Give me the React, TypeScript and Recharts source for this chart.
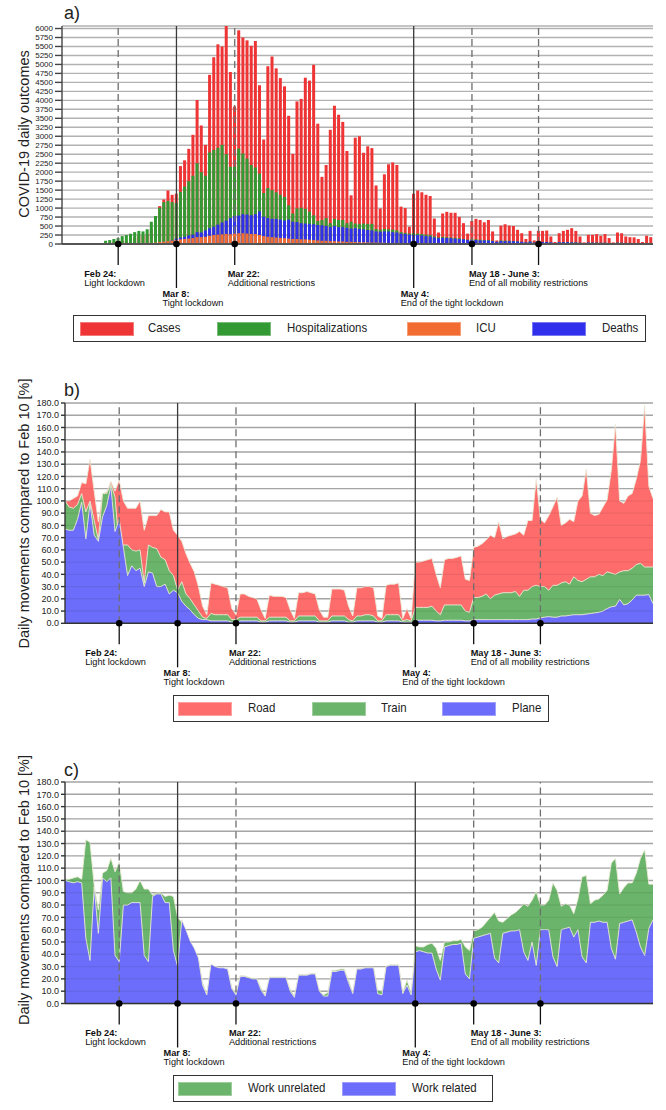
import React from "react";
import {
  BarChart, Bar, AreaChart, Area, XAxis, YAxis, CartesianGrid, ReferenceLine, Legend,
} from "recharts";

const FONT = "'Liberation Sans', Arial, sans-serif";

// daily series, day 0 = Feb 10 2020 ... day 141 = Jun 30 2020
const cases = [
  0, 0, 0, 0, 0, 0, 0, 0, 0, 0,
  15, 40, 60, 50, 90, 80, 100, 180, 240, 230,
  280, 420, 600, 1055, 1240, 1490, 1370, 1400, 2170, 2330,
  2650, 3040, 4010, 3300, 2760, 4710, 5200, 5560, 5500, 6070,
  4790, 3830, 5950, 5750, 5670, 5520, 5650, 4420, 2910, 4950,
  5220, 4890, 4620, 4390, 3570, 2510, 3970, 4040, 4630, 4550,
  4990, 3350, 1870, 2200, 3180, 3850, 3600, 3400, 2590, 1355,
  2960, 3000, 2540, 2720, 2670, 1630, 990, 1940, 2220, 2270,
  2200, 1040, 1000, 480, 1400, 1490, 1440, 1370, 1335, 710,
  320, 850, 895, 870, 870, 755, 580, 290, 640, 700,
  670, 605, 670, 350, 100, 510, 550, 510, 500, 395,
  300, 140, 365, 100, 365, 365, 375, 210, 55, 300,
  365, 395, 440, 365, 210, 45, 255, 255, 275, 230,
  275, 165, 45, 320, 300, 210, 190, 185, 140, 55,
  230, 190,
];
const hospitalizations = [
  0, 0, 0, 0, 0, 0, 0, 0, 0, 0,
  90, 110, 140, 165, 220, 250, 285, 330, 365, 350,
  410, 620, 780, 1010, 1165, 1200, 1165, 1140, 1450, 1600,
  1750, 1900, 2250, 2000, 1900, 2550, 2620, 2680, 2760, 2500,
  2150, 2150, 2660, 2520, 2380, 2200, 2130, 1960, 1420, 1560,
  1500, 1440, 1370, 1310, 1080, 850, 990, 1010, 980, 900,
  800, 640, 670, 720, 580, 700, 670, 670, 580, 620,
  570, 560, 570, 560, 560, 420, 400, 420, 410, 400,
  380, 330, 310, 290, 300, 290, 280, 260, 250, 210,
  180, 200, 190, 180, 170, 160, 140, 120, 130, 130,
  120, 110, 110, 90, 60, 100, 95, 90, 85, 75,
  60, 40, 70, 40, 65, 60, 60, 45, 25, 50,
  55, 55, 50, 45, 35, 20, 40, 40, 40, 35,
  35, 25, 15, 40, 35, 30, 30, 25, 20, 15,
  30, 30,
];
const deaths = [
  0, 0, 0, 0, 0, 0, 0, 0, 0, 0,
  0, 0, 0, 0, 0, 0, 0, 0, 0, 0,
  0, 10, 20, 30, 40, 60, 100, 150, 180, 200,
  240, 260, 330, 320, 380, 440, 480, 540, 600, 650,
  720, 780, 790, 830, 820, 800, 830, 910, 760, 720,
  700, 700, 680, 650, 680, 620, 610, 580, 570, 560,
  550, 530, 520, 500, 470, 500, 470, 470, 450, 430,
  440, 420, 410, 390, 380, 350, 340, 350, 350, 330,
  320, 290, 280, 260, 250, 250, 240, 220, 210, 180,
  160, 170, 170, 160, 150, 140, 130, 110, 110, 110,
  100, 100, 95, 80, 60, 85, 80, 80, 75, 70,
  60, 45, 65, 40, 60, 55, 55, 45, 30, 50,
  50, 50, 45, 40, 35, 25, 40, 40, 35, 35,
  35, 25, 20, 35, 35, 30, 30, 25, 20, 15,
  25, 20,
];
const icu = [
  0, 0, 0, 0, 0, 0, 0, 0, 0, 0,
  0, 0, 0, 0, 0, 0, 0, 0, 0, 0,
  20, 30, 40, 55, 65, 80, 95, 110, 130, 140,
  150, 165, 190, 190, 200, 230, 250, 260, 270, 280,
  270, 290, 300, 300, 290, 280, 280, 250, 220, 200,
  190, 180, 170, 160, 150, 140, 140, 130, 130, 120,
  110, 100, 90, 90, 80, 80, 70, 70, 60, 60,
  55, 50, 50, 45, 40, 40, 35, 35, 30, 30,
  30, 25, 20, 20, 20, 20, 18, 18, 17, 15,
  12, 15, 14, 13, 13, 12, 10, 8, 10, 10,
  9, 9, 8, 7, 5, 8, 7, 7, 7, 6,
  5, 4, 6, 4, 6, 5, 5, 4, 3, 5,
  5, 5, 4, 4, 3, 2, 4, 4, 3, 3,
  3, 2, 2, 3, 3, 3, 3, 2, 2, 1,
  2, 2,
];

// mobility, % of Feb 10
const road = [
  100, 100, 102, 104, 115, 114, 134, 108, 83, 106,
  107, 116, 108, 117, 100, 94, 94, 94, 100, 76,
  88, 88, 88, 93, 91, 91, 76, 72, 67, 57,
  49, 42, 30, 14, 7, 33, 32, 31, 30, 29,
  12, 7, 24, 24, 22, 21, 20, 11, 4, 23,
  22, 22, 22, 21, 11, 4, 25, 25, 26, 25,
  24, 11, 5, 5, 28, 28, 28, 27, 14, 6,
  29, 29, 30, 30, 29, 6, 4, 31, 32, 32,
  33, 4, 12, 4, 50, 50, 51, 52, 53, 40,
  29, 52, 53, 53, 54, 55, 36, 35, 62, 63,
  65, 68, 72, 70, 83, 69, 71, 72, 73, 75,
  72, 84, 84, 118, 85, 82, 88, 95, 103, 80,
  82, 85, 83, 100, 104, 126, 90, 88, 89, 95,
  101, 125, 163, 100, 98, 104, 106, 118, 133, 178,
  112, 102,
];
const train = [
  100, 95, 94, 97, 106, 91, 100, 84, 68, 106,
  106, 114, 103, 62, 64, 64, 60, 59, 60, 33,
  64, 62, 61, 54, 52, 43, 39, 27, 34, 24,
  20, 15, 10, 5, 4, 8, 7, 7, 7, 7,
  3, 3, 5, 5, 5, 5, 5, 2, 2, 5,
  5, 5, 5, 5, 2, 2, 6, 6, 6, 6,
  6, 2, 2, 2, 6, 6, 6, 6, 3, 2,
  6, 6, 7, 7, 6, 2, 2, 7, 7, 7,
  7, 2, 3, 2, 13, 13, 13, 13, 14, 10,
  7, 15, 15, 15, 15, 15, 10, 9, 21, 21,
  22, 24, 20, 23, 24, 25, 25, 25, 26, 22,
  27, 27, 30, 31, 30, 30, 27, 31, 31, 33,
  34, 32, 38, 35, 34, 36, 38, 38, 40, 39,
  42, 41, 40, 42, 43, 43, 45, 48, 49, 46,
  46, 46,
];
const plane = [
  77, 76, 76, 85, 99, 69, 98, 72, 67, 87,
  96, 112, 75, 85, 62, 39, 47, 43, 45, 30,
  42, 41, 30, 30, 32, 24, 27, 25, 18, 14,
  11, 7, 4, 3, 3, 2, 2, 2, 2, 2,
  1, 1, 2, 2, 2, 2, 2, 1, 1, 2,
  2, 2, 2, 2, 1, 1, 2, 2, 2, 2,
  2, 1, 1, 1, 2, 2, 2, 2, 1, 1,
  2, 2, 2, 2, 2, 1, 1, 2, 2, 2,
  2, 1, 1, 1, 2.5, 2.5, 2.5, 2.5, 2.5, 2,
  2, 2.5, 2.5, 2.5, 2.5, 2.5, 2, 2, 3, 3,
  3, 3, 3, 3, 3, 3, 3, 3, 3, 3,
  3, 3, 3.5, 3.5, 4.5, 5, 5.5, 5, 5, 6,
  6, 6.5, 7, 7, 7, 7.5, 8, 8.5, 9, 10,
  12, 13.5, 14, 19.5, 15, 16, 19, 23, 23, 23,
  23.5, 16,
];
const workUnrelated = [
  101, 101, 102, 103, 101, 133, 131, 96, 76, 106,
  108, 118, 107, 115, 91, 90, 90, 93, 100, 93,
  93, 88, 90, 90, 87, 88, 87, 70, 66, 59,
  50, 44, 36, 17, 8, 31, 30, 29, 28, 28,
  13, 8, 22.5, 22.5, 21.5, 20.5, 20.5, 12.5, 7, 21.5,
  21.5, 21.5, 21.5, 21.5, 11.5, 6, 23.5, 23.5, 23.5, 24.5,
  24.5, 11, 7, 9, 27, 27, 28, 28, 19, 9,
  28.5, 28.5, 29.5, 29.5, 29.5, 11, 10, 30.5, 31.5, 31.5,
  31.5, 9, 19, 9, 47, 46, 46, 48, 49, 45,
  35, 50, 50, 51, 51, 52, 46, 43, 59, 60,
  62, 66, 70, 74, 67, 66, 69, 72, 74, 77,
  81, 79, 84, 91, 80, 80, 84, 98, 92, 79,
  81, 80, 73, 85, 103, 104, 81, 84, 85, 88,
  92, 114, 118, 89, 94, 98, 98, 106, 118, 125,
  97, 97,
];
const workRelated = [
  100, 99, 98, 99, 98, 53, 35, 95, 57, 102,
  99, 102, 39, 34, 80, 80, 82, 82, 82, 39,
  34, 87, 89, 89, 82, 82, 43, 30, 68, 60,
  51, 45, 37, 15, 7, 32, 30, 29, 29, 28,
  12, 7, 22, 22, 21, 20, 20, 11, 6, 21,
  21, 21, 21, 21, 10, 5, 23, 23, 23, 24,
  24, 10, 6, 6, 26, 26, 27, 27, 17, 8,
  28, 28, 29, 29, 29, 8, 7, 30, 31, 31,
  31, 8, 15, 7, 42, 43, 42, 41, 41, 28,
  19, 46, 47, 48, 48, 49, 24, 20, 53, 54,
  55, 56, 57, 37, 33, 57, 58, 59, 59, 60,
  42, 35, 50, 31, 60, 60, 60, 38, 30, 60,
  61, 62, 54, 60, 38, 33, 66, 66, 67, 66,
  66, 45, 36, 65, 66, 67, 68, 58, 46, 39,
  61, 68,
];

const outcomeTicks = [
  0, 250, 500, 750, 1000, 1250, 1500, 1750, 2000, 2250, 2500, 2750, 3000,
  3250, 3500, 3750, 4000, 4250, 4500, 4750, 5000, 5250, 5500, 5750, 6000,
];
const mobilityTicks = [0, 10, 20, 30, 40, 50, 60, 70, 80, 90, 100, 110, 120, 130, 140, 150, 160, 170, 180];

const events = [
  { day: 13, title: "Feb 24:", text: "Light lockdown", solid: false },
  { day: 27, title: "Mar 8:", text: "Tight lockdown", solid: true },
  { day: 41, title: "Mar 22:", text: "Additional restrictions", solid: false },
  { day: 84, title: "May 4:", text: "End of the tight lockdown", solid: true },
  { day: 98, title: "May 18 - June 3:", text: "End of all mobility restrictions", solid: false },
  { day: 114, title: "", text: "", solid: false },
];
// where each event's caption sits relative to its marker
const eventLook = [
  { dx: -34, drop: 21 }, { dx: -14, drop: 44 }, { dx: -7, drop: 21 },
  { dx: -13, drop: 44 }, { dx: -3, drop: 21 }, { dx: 0, drop: 21 },
];

const C = {
  cases: "#ee3434", hosp: "#339933", icu: "#f26b30", deaths: "#3030ec",
  road: "#ff6c6c", train: "#6bb46b", plane: "#6d6dfb",
};

const outcomeRows = cases.map((v, i) => ({
  day: i, cases: v, hosp: hospitalizations[i], deaths: deaths[i], icu: icu[i],
}));
const mobilityRows = road.map((v, i) => ({
  day: i, road: v, train: train[i], plane: plane[i], unrel: workUnrelated[i], rel: workRelated[i],
}));

function EventMark(props: any) {
  const { x1, y1, y2, ev, look } = props;
  const top = Math.min(y1, y2);
  const base = Math.max(y1, y2);
  const far = look.drop > 30;
  const ty = base + (far ? 52.5 : 32.5);
  return (
    <g>
      <line x1={x1} x2={x1} y1={base} y2={top} stroke={ev.solid ? "#3a3a3a" : "#6e6e6e"}
        strokeWidth={1.3} strokeDasharray={ev.solid ? undefined : "7 4"} />
      <line x1={x1} x2={x1} y1={base} y2={base + look.drop} stroke="#111" strokeWidth={1.3} />
      <circle cx={x1} cy={base} r={3.3} fill="#000" />
      {ev.title && (
        <text x={x1 + look.dx} y={ty} fontSize={9.2} fill="#111" fontFamily={FONT}>
          <tspan fontWeight="bold">{ev.title}</tspan>
          <tspan x={x1 + look.dx} dy={9}>{ev.text}</tspan>
        </text>
      )}
    </g>
  );
}

function Titles({ panel, title, cy, letterY }: { panel: string; title: string; cy: number; letterY: number }) {
  return (
    <g fontFamily={FONT}>
      <text x={64} y={letterY} fontSize={18} fill="#222">{panel}</text>
      <text x={24} y={cy} fontSize={14.5} fill="#222" textAnchor="middle" dominantBaseline="central"
        transform={`rotate(-90 24 ${cy})`}>{title}</text>
    </g>
  );
}

type Item = { label: string; color: string; sx: number; tx: number };

function LegendBox({ items, width }: { items: Item[]; width: number }) {
  return (
    <div style={{
      position: "relative", width, height: 27, boxSizing: "border-box",
      border: "1.3px solid #333", background: "#fff", fontFamily: FONT,
    }}>
      {items.map((it) => (
        <React.Fragment key={it.label}>
          <span style={{
            position: "absolute", left: it.sx, top: 5.5, width: 54, height: 14,
            background: it.color, boxShadow: "inset 0 0 0 1px rgba(255,255,255,0.35)",
          }} />
          <span style={{
            position: "absolute", left: it.tx, top: 4, fontSize: 13, lineHeight: "16px",
            color: "#222", whiteSpace: "nowrap", transform: "scaleX(0.88)", transformOrigin: "left center",
          }}>{it.label}</span>
        </React.Fragment>
      ))}
    </div>
  );
}

const outcomeLegend: Item[] = [
  { label: "Cases", color: C.cases, sx: 6, tx: 74 },
  { label: "Hospitalizations", color: C.hosp, sx: 143, tx: 213 },
  { label: "ICU", color: C.icu, sx: 333, tx: 402 },
  { label: "Deaths", color: C.deaths, sx: 458, tx: 528 },
];
const modeLegend: Item[] = [
  { label: "Road", color: C.road, sx: 4, tx: 74 },
  { label: "Train", color: C.train, sx: 138, tx: 207 },
  { label: "Plane", color: C.plane, sx: 268, tx: 338 },
];
const purposeLegend: Item[] = [
  { label: "Work unrelated", color: C.train, sx: 4, tx: 74 },
  { label: "Work related", color: C.plane, sx: 168, tx: 238 },
];

const tickStyle = (size: number) => ({ fontSize: size, fill: "#222", fontFamily: FONT });

function OutcomesPanel() {
  const ids = ["c", "h", "d", "i"];
  return (
    <BarChart width={666} height={350} data={outcomeRows} barCategoryGap="10%"
      margin={{ top: 26, right: 13, bottom: 106, left: 0 }}>
      <CartesianGrid xAxisId="c" vertical={false} stroke="#b2b2b2" strokeWidth={1.4} />
      {ids.map((id) => <XAxis key={id} xAxisId={id} dataKey="day" hide />)}
      <YAxis width={62} domain={[0, 6000]} ticks={outcomeTicks} interval={0} tickSize={7} tickMargin={2}
        tick={tickStyle(8)} stroke="#444" strokeWidth={1.4}
        label={() => <Titles panel="a)" title="COVID-19 daily outcomes" cy={134} letterY={19} />} />
      <Bar xAxisId="c" dataKey="cases" name="Cases" fill={C.cases} isAnimationActive={false} />
      <Bar xAxisId="h" dataKey="hosp" name="Hospitalizations" fill={C.hosp} isAnimationActive={false} />
      <Bar xAxisId="d" dataKey="deaths" name="Deaths" fill={C.deaths} isAnimationActive={false} />
      <Bar xAxisId="i" dataKey="icu" name="ICU" fill={C.icu} isAnimationActive={false} />
      <ReferenceLine xAxisId="c" y={0} stroke="#555" strokeWidth={2} />
      {events.map((ev, k) => (
        <ReferenceLine key={ev.day} xAxisId="c" x={ev.day}
          shape={(p: any) => <EventMark {...p} ev={ev} look={eventLook[k]} />} />
      ))}
      <Legend layout="horizontal" verticalAlign="middle" align="center"
        wrapperStyle={{ left: 73, top: 315, width: 573, height: 27 }}
        content={() => <LegendBox items={outcomeLegend} width={573} />} />
    </BarChart>
  );
}

function MobilityPanel({ panel, top, bottom, cy, series, legend, legendWidth }: {
  panel: string; top: number; bottom: number; cy: number;
  series: { key: string; name: string; color: string }[]; legend: Item[]; legendWidth: number;
}) {
  return (
    <AreaChart width={666} height={380} data={mobilityRows}
      margin={{ top, right: 13, bottom, left: 0 }}>
      <CartesianGrid vertical={false} stroke="#b2b2b2" strokeWidth={1.4} />
      <XAxis dataKey="day" hide />
      <YAxis width={65} domain={[0, 180]} ticks={mobilityTicks} interval={0} tickSize={4} tickMargin={2}
        tick={tickStyle(9)} tickFormatter={(v: number) => v.toFixed(1)} stroke="#333" strokeWidth={1.4}
        label={() => <Titles panel={panel} title="Daily movements compared to Feb 10 [%]" cy={cy} letterY={46} />} />
      {series.map((s) => (
        <Area key={s.key} type="linear" dataKey={s.key} name={s.name} fill={s.color} fillOpacity={1}
          stroke="#ecebd8" strokeWidth={0.9} isAnimationActive={false} />
      ))}
      {mobilityTicks.slice(1).map((t) => (
        <ReferenceLine key={t} y={t} stroke="#000" strokeOpacity={0.07} strokeWidth={1.4} />
      ))}
      <ReferenceLine y={0} stroke="#333" strokeWidth={1.6} />
      {events.map((ev, k) => (
        <ReferenceLine key={ev.day} x={ev.day}
          shape={(p: any) => <EventMark {...p} ev={ev} look={eventLook[k]} />} />
      ))}
      <Legend layout="horizontal" verticalAlign="middle" align="center"
        wrapperStyle={{ left: 173, top: 345, width: legendWidth, height: 27 }}
        content={() => <LegendBox items={legend} width={legendWidth} />} />
    </AreaChart>
  );
}

export default function App() {
  return (
    <div style={{ position: "absolute", left: 0, top: 0, width: 666, height: 1110, background: "#fff", fontFamily: FONT }}>
      <div style={{ position: "absolute", left: 0, top: 0 }}>
        <OutcomesPanel />
      </div>
      <div style={{ position: "absolute", left: 0, top: 350 }}>
        <MobilityPanel panel="b)" top={53} bottom={106.7} cy={163.5} legendWidth={376} legend={modeLegend}
          series={[
            { key: "road", name: "Road", color: C.road },
            { key: "train", name: "Train", color: C.train },
            { key: "plane", name: "Plane", color: C.plane },
          ]} />
      </div>
      <div style={{ position: "absolute", left: 0, top: 730 }}>
        <MobilityPanel panel="c)" top={52} bottom={106.5} cy={160} legendWidth={320} legend={purposeLegend}
          series={[
            { key: "unrel", name: "Work unrelated", color: C.train },
            { key: "rel", name: "Work related", color: C.plane },
          ]} />
      </div>
    </div>
  );
}
